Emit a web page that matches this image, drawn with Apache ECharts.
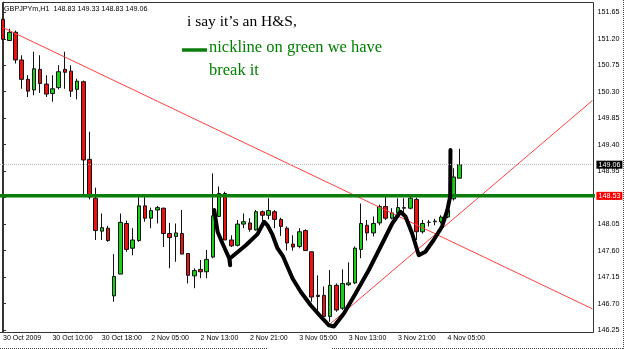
<!DOCTYPE html>
<html>
<head>
<meta charset="utf-8">
<script src="https://cdn.jsdelivr.net/npm/echarts@6/dist/echarts.min.js"></script>
<style>
html, body { margin: 0; padding: 0; background: #fff; }
#chart { width: 625px; height: 349px; }
</style>
</head>
<body>
<div id="chart"></div>
<script>
// GBPJPYm H1 candles
var opens  = [151.53,151.17,151.31,150.84,150.51,150.33,150.68,150.43,150.27,150.37,150.68,150.65,150.34,150.47,149.15,148.49,147.93,147.98,146.83,147.20,
              148.06,147.64,147.77,148.36,148.15,148.29,148.32,147.89,147.84,147.89,147.55,147.17,147.28,147.24,147.49,148.18,148.57,147.78,147.69,148.05,
              148.07,147.95,148.26,148.20,148.26,148.13,147.98,147.71,147.67,147.94,147.58,146.84,146.84,146.48,147.01,146.62,147.02,147.05,147.62,148.03,
              147.90,148.07,148.35,148.15,148.24,148.32,148.32,148.47,147.92,148.08,148.09,148.09,148.17,148.48,148.83];
var highs  = [151.55,151.37,151.34,150.92,150.58,150.98,150.92,150.58,150.58,150.75,150.98,150.75,150.52,150.49,149.62,148.67,148.23,148.02,147.54,148.23,
              148.11,147.98,148.51,148.51,148.33,148.36,148.33,148.07,148.06,148.29,147.55,147.30,147.44,147.61,148.91,148.69,148.60,147.86,148.12,148.23,
              148.15,148.29,148.28,148.49,148.29,148.16,148.01,147.86,147.98,147.96,147.58,147.18,146.99,147.27,147.04,147.28,147.40,147.67,148.40,148.12,
              148.18,148.38,148.54,148.32,148.49,148.49,148.54,148.50,148.12,148.12,148.14,148.20,148.33,149.00,149.33];
var lows   = [151.17,151.16,150.78,150.35,150.21,150.24,150.28,150.21,150.13,150.34,150.35,150.21,150.17,148.53,148.47,147.78,147.78,147.75,146.73,147.20,
              147.58,147.52,147.75,148.09,147.98,148.06,147.66,147.30,147.41,147.54,147.04,146.96,147.13,147.13,147.47,148.17,147.78,147.66,147.67,147.98,
              147.92,147.94,148.10,148.13,147.98,147.85,147.60,147.60,147.64,147.60,146.73,146.56,146.42,146.39,146.56,146.59,147.00,147.03,147.47,147.77,
              147.84,148.03,148.12,148.13,148.20,148.23,148.30,147.78,147.89,148.01,148.03,148.06,148.15,148.45,148.83];
var closes = [151.19,151.31,150.84,150.51,150.31,150.69,150.44,150.26,150.35,150.64,150.63,150.31,150.48,149.14,148.51,147.94,147.99,147.77,147.16,148.08,
              147.62,147.78,148.36,148.15,148.28,148.33,147.89,147.82,147.90,147.54,147.18,147.26,147.24,147.45,148.19,148.57,147.78,147.68,148.05,148.09,
              147.96,148.26,148.20,148.28,148.13,148.01,147.73,147.66,147.92,147.60,146.81,146.82,146.48,147.01,146.59,147.04,147.05,147.64,148.06,147.90,
              148.06,148.35,148.15,148.24,148.33,148.33,148.49,147.92,148.06,148.08,148.10,148.17,148.29,148.85,149.06];

var slotCount = 96; // bars shown incl. empty space on the right
var timeLabels = ['30 Oct 2009', '30 Oct 10:00', '30 Oct 18:00', '2 Nov 05:00', '2 Nov 13:00',
                  '2 Nov 21:00', '3 Nov 05:00', '3 Nov 13:00', '3 Nov 21:00', '4 Nov 05:00'];
var priceTicks = [146.25, 146.70, 147.15, 147.60, 148.05, 148.50, 148.95, 149.40, 149.85, 150.30, 150.75, 151.20, 151.65];
var bidPrice = 149.06;
var necklinePrice = 148.53;

// trend lines and the hand drawn H&S stroke, as [bar index, price]
var downTrend = [[0, 151.39], [95.5, 146.61]];
var upTrend = [[53.08, 146.36], [95.5, 150.15]];
var hsPath = [[34.22,148.29],[34.76,147.92],[35.56,147.72],[36.64,147.47],[36.8,147.35],[36.7,147.46],[39.34,147.69],
              [41.23,147.88],[42.3,148.09],[42.85,148.03],[43.65,147.87],[44.46,147.64],[45.37,147.50],[46.89,147.13],
              [48.23,146.90],[49.85,146.67],[51.46,146.48],[52.81,146.33],[53.61,146.31],[55.23,146.53],[57.12,146.87],
              [59.27,147.27],[61.44,147.72],[63.06,148.06],[64.4,148.26],[65.21,148.18],[66.29,147.89],[67.36,147.52],
              [68.44,147.58],[69.78,147.78],[71.14,148.01],[72.0,148.29],[72.45,148.52],[72.5,149.31]];

var cats = [];
for (var i = 0; i < slotCount; i++) cats.push(String(i));
var candles = [];
for (var j = 0; j < opens.length; j++) candles.push([opens[j], closes[j], lows[j], highs[j]]);

var axisFont = '"Liberation Sans", Arial, sans-serif';
var green = '#0b7d0b';

var myChart = echarts.init(document.getElementById('chart'));
var option = {
    animation: false,
    backgroundColor: '#fff',
    grid: { left: -1.4, top: 2, width: 593.8, height: 330 },
    xAxis: [{
        type: 'category',
        data: cats,
        boundaryGap: true,
        axisLine: { lineStyle: { color: '#333' } },
        axisTick: { alignWithLabel: true, length: 3, interval: function (i) { return i % 8 === 0; }, lineStyle: { color: '#333' } },
        axisLabel: {
            interval: function (i) { return i % 8 === 0; },
            formatter: function (v) { return timeLabels[Number(v) / 8] || ''; },
            align: 'left', margin: 3, fontSize: 7, color: '#000', fontFamily: axisFont
        },
        splitLine: { show: false }
    }, {
        type: 'value', min: -0.5, max: slotCount - 0.5, show: false
    }],
    yAxis: {
        type: 'value',
        position: 'right',
        min: 146.216,
        max: 151.825,
        axisLine: { show: true, lineStyle: { color: '#333' } },
        axisTick: { show: true, length: 3, customValues: priceTicks, lineStyle: { color: '#333' } },
        axisLabel: {
            customValues: priceTicks,
            formatter: function (v) { return v.toFixed(2); },
            margin: 5, fontSize: 7.2, color: '#000', fontFamily: axisFont
        },
        splitLine: { show: false }
    },
    series: [{
        type: 'candlestick',
        data: candles,
        barWidth: 4,
        itemStyle: { color: '#18d018', color0: '#ee1111', borderColor: '#111', borderColor0: '#111', borderWidth: 1 },
        markLine: {
            silent: true, symbol: ['none', 'none'],
            data: [{ yAxis: bidPrice }],
            lineStyle: { color: '#b8b8b8', type: 'dotted', width: 1 },
            label: { position: 'end', distance: 4, formatter: bidPrice.toFixed(2), backgroundColor: '#000', color: '#fff',
                     padding: [1, 2, 0, 2], fontSize: 7.2, fontFamily: axisFont }
        }
    }, {
        type: 'line', xAxisIndex: 1, data: downTrend, symbol: 'none',
        lineStyle: { color: '#ff4040', width: 1 }
    }, {
        type: 'line', xAxisIndex: 1, data: upTrend, symbol: 'none',
        lineStyle: { color: '#ff4040', width: 1 }
    }, {
        type: 'line', xAxisIndex: 1, clip: false,
        data: [[-0.5, necklinePrice], [97.6, necklinePrice]], symbol: 'none',
        lineStyle: { color: green, width: 3.5 },
        markLine: {
            silent: true, symbol: ['none', 'none'],
            data: [{ yAxis: necklinePrice }],
            lineStyle: { color: 'rgba(0,0,0,0)', width: 1 },
            label: { position: 'end', distance: 4, formatter: necklinePrice.toFixed(2), backgroundColor: '#ff0000', color: '#fff',
                     padding: [1, 2, 0, 2], fontSize: 7.2, fontFamily: axisFont }
        }
    }, {
        type: 'line', xAxisIndex: 1, data: hsPath, symbol: 'none',
        lineStyle: { color: '#000', width: 4, cap: 'round', join: 'round' }
    }],
    graphic: [
        { type: 'rect', shape: { x: 2.5, y: 2.5, width: 591, height: 330 }, style: { fill: 'none', stroke: '#333', lineWidth: 1 }, silent: true },
        { type: 'line', shape: { x1: 0, y1: 348.5, x2: 267, y2: 348.5 }, style: { stroke: '#444', lineWidth: 1, lineDash: [1, 1] }, silent: true },
        { type: 'line', shape: { x1: 332, y1: 348.5, x2: 623, y2: 348.5 }, style: { stroke: '#444', lineWidth: 1, lineDash: [1, 1] }, silent: true },
        { type: 'line', shape: { x1: 623.5, y1: 0, x2: 623.5, y2: 349 }, style: { stroke: '#444', lineWidth: 1, lineDash: [1, 1] }, silent: true },
        { type: 'text', x: 4, y: 9, style: { text: 'GBPJPYm,H1  148.83 149.33 148.83 149.06', fill: '#000', fontSize: 7.2, fontFamily: axisFont, verticalAlign: 'middle' } },
        { type: 'text', x: 187, y: 21.6, style: { text: 'i say it\u2019s an H&S,', fill: '#000', fontSize: 15.5, fontFamily: '"Liberation Serif", serif', verticalAlign: 'middle' } },
        { type: 'line', shape: { x1: 182, y1: 50, x2: 207, y2: 50 }, style: { stroke: green, lineWidth: 3.5 }, silent: true },
        { type: 'text', x: 209, y: 47.2, style: { text: 'nickline on green we have', fill: '#008000', fontSize: 16.5, fontFamily: '"Liberation Serif", serif', verticalAlign: 'middle' } },
        { type: 'text', x: 209, y: 70.5, style: { text: 'break it', fill: '#008000', fontSize: 16.5, fontFamily: '"Liberation Serif", serif', verticalAlign: 'middle' } }
    ]
};
myChart.setOption(option);
</script>
</body>
</html>
